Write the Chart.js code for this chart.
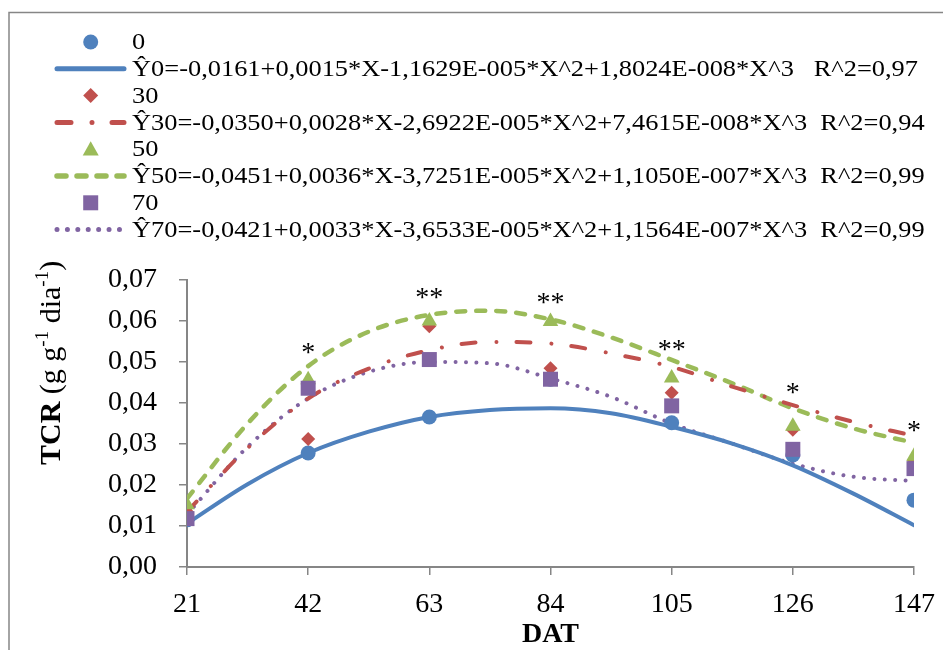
<!DOCTYPE html>
<html>
<head>
<meta charset="utf-8">
<script src="https://cdn.jsdelivr.net/npm/chart.js@4.4.1/dist/chart.umd.min.js"></script>
<style>
  html, body { margin: 0; padding: 0; background: #fff; }
</style>
</head>
<body>
<canvas id="chart" width="943" height="650"></canvas>
<script>
// observed means per dose (0, 30, 50, 70) at each DAT
const dat = [21, 42, 63, 84, 105, 126, 147];
const tcr0 = [0.0115, 0.0278, 0.0366, 0.0458, 0.0352, 0.0273, 0.0163];
const tcr30 = [0.0135, 0.0312, 0.0587, 0.0485, 0.0425, 0.0335, 0.0260];
const tcr50 = [0.0152, 0.0457, 0.0600, 0.0599, 0.0461, 0.0343, 0.0270];
const tcr70 = [0.0118, 0.0436, 0.0506, 0.0458, 0.0393, 0.0287, 0.0240];

// fitted curves
const fitX = [21, 31.5, 42, 52.5, 63, 73.5, 84, 94.5, 105, 115.5, 126, 136.5, 147];
const fit0 = [0.0106, 0.0202, 0.0278, 0.0330, 0.0366, 0.0383, 0.0387, 0.0375, 0.0342, 0.0301, 0.0248, 0.0179, 0.0102];
const fit30 = [0.0135, 0.0290, 0.0411, 0.0484, 0.0529, 0.0549, 0.0545, 0.0521, 0.0488, 0.0440, 0.0395, 0.0354, 0.0320];
const fit50 = [0.0167, 0.0350, 0.0490, 0.0574, 0.0615, 0.0625, 0.0604, 0.0560, 0.0505, 0.0448, 0.0387, 0.0338, 0.0303];
const fit70 = [0.0128, 0.0293, 0.0411, 0.0476, 0.0500, 0.0497, 0.0460, 0.0415, 0.0350, 0.0301, 0.0252, 0.0220, 0.0210];

// significance marks
const sigX = [42, 63, 84, 105, 126, 147];
const sigY = [0.0533, 0.0668, 0.0654, 0.0541, 0.0436, 0.0342];
const sigText = ['*', '**', '**', '**', '*', '*'];

const labels = [
    '0',
    '\u01760=-0,0161+0,0015*X-1,1629E-005*X^2+1,8024E-008*X^3   R^2=0,97',
    '30',
    '\u017630=-0,0350+0,0028*X-2,6922E-005*X^2+7,4615E-008*X^3  R^2=0,94',
    '50',
    '\u017650=-0,0451+0,0036*X-3,7251E-005*X^2+1,1050E-007*X^3  R^2=0,99',
    '70',
    '\u017670=-0,0421+0,0033*X-3,6533E-005*X^2+1,1564E-007*X^3  R^2=0,99'
];

const blue = '#4F81BD', red = '#C0504D', green = '#9BBB59', purple = '#8064A2';
const serif = '"Liberation Serif", "Times New Roman", serif';

function xy(xs, ys) {
    return xs.map((x, i) => ({ x: x, y: ys[i] }));
}

function pts(label, ys, color, style, radius, order) {
    return {
        label: label, data: xy(dat, ys), showLine: false,
        pointStyle: style, pointRadius: radius, pointHoverRadius: radius,
        backgroundColor: color, borderColor: color, borderWidth: 0, order: order
    };
}

function fit(label, ys, color, width, dash) {
    return {
        label: label, data: xy(fitX, ys), showLine: true, pointRadius: 0,
        borderColor: color, borderWidth: width, borderDash: dash,
        borderCapStyle: 'round', cubicInterpolationMode: 'monotone',
        fill: false, order: 10
    };
}

const datasets = [
    pts(labels[0], tcr0, blue, 'circle', 7.5, 4),
    fit(labels[1], fit0, blue, 4, []),
    pts(labels[2], tcr30, red, 'rectRot', 7, 3),
    fit(labels[3], fit30, red, 4, [14, 21, 0.01, 20]),
    pts(labels[4], tcr50, green, 'triangle', 9, 2),
    fit(labels[5], fit50, green, 4.5, [9, 11]),
    pts(labels[6], tcr70, purple, 'rect', 10.6, 1),
    fit(labels[7], fit70, purple, 4, [0.01, 10.4])
];

function marker(c, style, x, y, r) {
    c.beginPath();
    if (style === 'circle') {
        c.arc(x, y, r, 0, Math.PI * 2);
    } else if (style === 'rectRot') {
        c.moveTo(x, y - r); c.lineTo(x + r, y); c.lineTo(x, y + r); c.lineTo(x - r, y);
    } else if (style === 'triangle') {
        c.moveTo(x, y - r); c.lineTo(x + r, y + r * 0.8); c.lineTo(x - r, y + r * 0.8);
    } else {
        c.rect(x - r, y - r, 2 * r, 2 * r);
    }
    c.closePath();
    c.fill();
}

const decor = {
    id: 'decor',
    beforeDraw(chart) {
        const c = chart.ctx;
        c.save();
        c.fillStyle = '#fff';
        c.fillRect(0, 0, chart.width, chart.height);
        c.strokeStyle = '#868686';
        c.lineWidth = 1.5;
        c.strokeRect(9, 12.5, chart.width + 20, chart.height + 20);
        c.restore();
    },
    afterDatasetsDraw(chart) {
        const c = chart.ctx;
        const sx = chart.scales.x, sy = chart.scales.y;
        c.save();
        c.fillStyle = '#000';
        c.font = '28px ' + serif;
        c.textAlign = 'center';
        c.textBaseline = 'alphabetic';
        sigText.forEach((t, i) => {
            const m = c.measureText(t);
            const yy = sy.getPixelForValue(sigY[i]) + (m.actualBoundingBoxAscent - m.actualBoundingBoxDescent) / 2;
            c.fillText(t, sx.getPixelForValue(sigX[i]), yy);
        });
        c.restore();
    },
    afterDraw(chart) {
        const c = chart.ctx;
        c.save();
        // legend
        const ds = chart.data.datasets;
        c.font = '24px ' + serif;
        c.textBaseline = 'middle';
        c.textAlign = 'left';
        ds.forEach((d, i) => {
            const y = 42 + i * 26.8;
            c.save();
            if (d.showLine) {
                c.strokeStyle = d.borderColor;
                c.lineWidth = d.borderWidth + 1;
                c.lineCap = 'round';
                c.setLineDash(d.borderDash);
                c.beginPath();
                c.moveTo(57, y);
                c.lineTo(124, y);
                c.stroke();
            } else {
                c.fillStyle = d.backgroundColor;
                const r = d.pointStyle === 'triangle' ? 8 : 7.5;
                marker(c, d.pointStyle, 90.7, y, r);
            }
            c.restore();
            c.save();
            c.fillStyle = '#000';
            c.translate(132, y + 1);
            c.scale(1.1, 1);
            c.fillText(d.label, 0, 0);
            c.restore();
        });
        // y axis title
        c.fillStyle = '#000';
        c.translate(60, 465);
        c.rotate(-Math.PI / 2);
        c.textBaseline = 'alphabetic';
        let x = 0;
        const parts = [
            ['TCR', 'bold 30px ', 0],
            [' (g g', '30px ', 0],
            ['-1', '19px ', -12],
            [' dia', '30px ', 0],
            ['-1', '19px ', -12],
            [')', '30px ', 0]
        ];
        parts.forEach(p => {
            c.font = p[1] + serif;
            c.fillText(p[0], x, p[2]);
            x += c.measureText(p[0]).width;
        });
        c.restore();
    }
};

const gray = '#868686';

new Chart(document.getElementById('chart'), {
    type: 'scatter',
    data: { datasets: datasets },
    options: {
        responsive: false,
        animation: false,
        layout: { padding: { top: 280, right: 29, left: 0, bottom: 0 } },
        plugins: { legend: { display: false }, tooltip: { enabled: false } },
        scales: {
            x: {
                type: 'linear', min: 21, max: 147,
                afterFit(scale) { scale.height = 83; },
                ticks: { stepSize: 21, color: '#000', padding: 6,
                         font: { family: serif, size: 28, lineHeight: 1.7 } },
                grid: { drawOnChartArea: false, drawTicks: true, tickLength: 8, color: gray, lineWidth: 1.5 },
                border: { color: gray, width: 2 },
                title: { display: true, text: 'DAT', color: '#000', padding: 0,
                         font: { family: serif, size: 28, weight: 'bold', lineHeight: 1.1 } }
            },
            y: {
                min: 0, max: 0.07,
                afterFit(scale) { scale.width = 187; },
                ticks: {
                    stepSize: 0.01, color: '#000', padding: 22,
                    font: { family: serif, size: 28 },
                    callback: v => v.toFixed(2).replace('.', ',')
                },
                grid: { drawOnChartArea: false, drawTicks: true, tickLength: 8, color: gray, lineWidth: 1.5 },
                border: { color: gray, width: 2 }
            }
        }
    },
    plugins: [decor]
});
</script>
</body>
</html>
